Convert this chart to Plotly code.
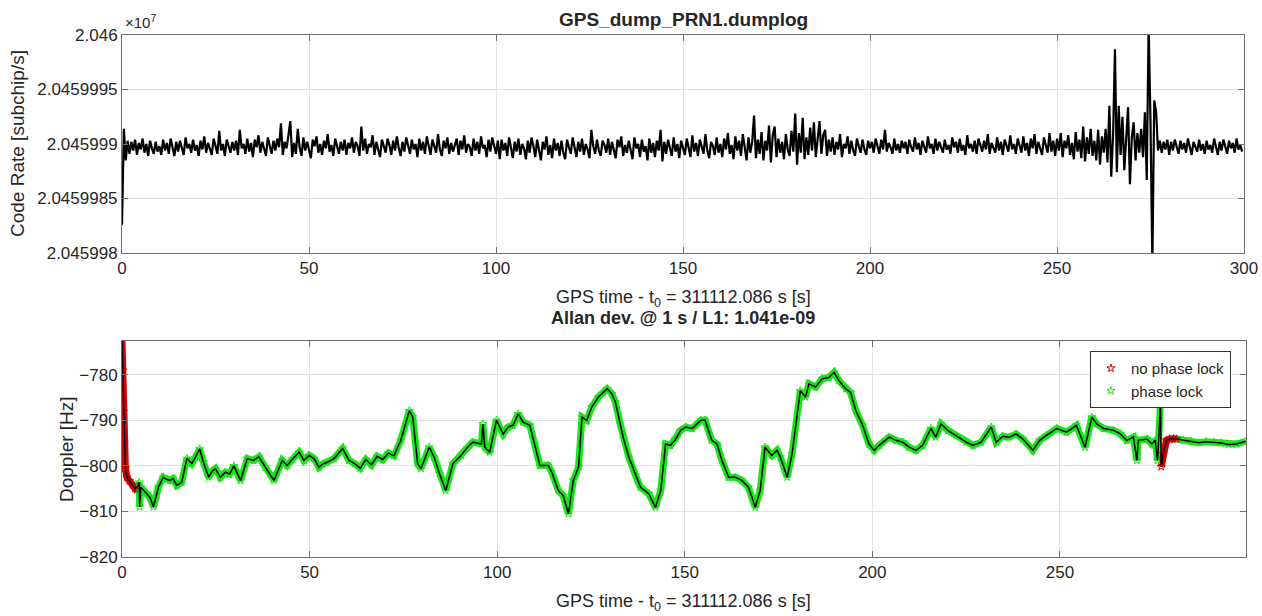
import numpy as np
import plotly.graph_objects as go

# ---------------- data ----------------
# Code rate: sampled every 0.5 s from t=0; offsets in 0.1 subchip/s from 20459990 subchip/s
CODE_RATE_BASE = 20459990.0
CODE_RATE_DT = 0.5
code_rate_dev_tenths = [
    -74, 14, -15, 3, -9, 2, -6, 4, -10, 1, -5, 5, -8, 0, -11, 3, -4, -9, 2, -7,
    -2, -10, 4, -6, 1, -9, 5, -3, -11, 2, -7, 3, -5, -10, 6, -4, 0, -8, 4, -6,
    -1, -11, 3, -5, 7, -8, 1, -4, -10, 5, -2, -9, 12, -6, 0, -11, 4, -3, -8, 2,
    -6, 3, -10, 13, -4, 0, -9, 5, -7, 1, -12, 4, -3, 8, -8, 2, -5, -11, 6, -2,
    -9, 3, -6, 5, -3, 19, -10, 2, -4, 8, 21, -12, 1, -9, 14, -3, -11, 6, -6, 2,
    -5, -13, 4, -2, 7, -8, 0, -10, 3, -4, 9, -7, -1, -11, 5, -3, -9, 2, -6, 4,
    -10, 1, -4, 6, -8, 2, -2, -11, 16, -6, 5, -9, 0, -3, 8, -10, 2, -5, -12, 4,
    -3, -8, 5, -1, -10, 3, -6, 7, -4, -11, 2, -7, 6, -2, -9, 4, -5, 0, -12, 5,
    -6, 2, -9, 7, -3, -10, 4, -1, -8, 9, -5, -11, 3, -4, 6, -9, 1, -7, -2, 5,
    -10, 3, -5, 8, -8, 0, -3, -11, 5, -6, 2, -9, 7, -4, -1, -12, 4, -7, 6, -2,
    -9, 3, -14, 4, -6, 1, -11, 6, -3, -13, 2, -7, 5, -10, 0, -4, -14, 3, -8, 6,
    -2, -12, 4, -7, -15, 2, -5, 7, -10, -1, -13, 5, -6, 1, -11, 3, -8, -14, 4, -3,
    -9, 6, -4, -12, 2, -7, 5, -10, 0, -5, -13, 13, -2, -9, 4, -6, -11, 3, -1, -8,
    5, -10, 2, -6, -13, 4, -3, 7, -11, -1, -8, 3, -5, -14, 6, -4, 0, -12, 4, -7,
    -2, -15, 5, -8, 1, -12, 3, -6, 13, -16, 2, -9, 4, -4, -11, 6, -7, 0, -13, 3,
    -5, -10, 5, -3, -12, 8, -7, 1, -11, 4, -4, -9, 9, -6, -13, 2, -2, -10, 6, -8,
    0, -12, 5, -5, 10, -9, -1, -14, 7, -6, 3, -11, 9, -3, -15, 6, -8, 2, 26, -13,
    4, -9, 11, -15, 3, -6, 17, -17, 8, 16, -12, 5, -8, 2, -14, 9, -5, -11, 12, -7,
    28, -19, 10, -8, 24, -14, 6, -10, 15, -6, 20, -12, 3, 21, -9, 8, 13, -11, 4, -7,
    6, -10, 2, -5, 9, -12, 0, -4, 7, -9, 3, -6, -11, 5, -2, -8, 4, -5, -10, 3,
    -4, 2, -8, 5, -2, -9, 4, -5, 13, -7, 1, -3, -9, 5, -6, 0, -8, 3, -4, 2,
    -9, 4, -3, -7, 6, -5, 1, -10, 3, -2, -8, 7, -4, 0, -9, 5, -6, 2, -3, -8,
    4, -5, -1, -9, 6, -3, 2, -8, 5, -6, -1, -10, 8, -4, 0, -7, 3, -9, 5, -2,
    -7, 3, -5, 9, -9, 1, -3, -8, 6, -6, 2, -10, 4, -2, -7, 8, -5, 0, -9, 5,
    -3, -8, 7, -6, 1, -11, 5, -4, 9, -9, 2, -5, -10, 6, -2, -8, 10, -7, 3, -11,
    5, -6, 10, -12, 3, -4, 8, -10, 1, -14, 11, -7, 4, -13, 16, -16, 6, -9, 14, -11,
    3, -15, 13, -19, 7, -8, 14, -17, 35, -30, 8, 87, -26, 35, -10, 25, -24, 12, 34, -37,
    6, 20, -15, 10, -8, 14, -12, 29, -33, 110, 20, -110, 40, 30, -6, 3, -8, 2, -5, 4,
    -10, 2, -6, 4, -3, -9, 3, -5, 1, -8, 5, -4, -10, 2, -2, -7, 4, -6, 0, -9,
    3, -5, -1, -8, 5, -3, -10, 2, -6, 4, -2, -9, 3, -4, 1, -8, 5, -5, -1, -7,
]

# Doppler (Hz) read at irregular times (s)
doppler_t = [
    0.0, 0.2, 0.4, 0.6, 0.9, 1.3, 2.0, 2.8, 3.5, 4.2,
    4.6, 4.7, 5.0, 6.6, 7.5, 8.4, 9.0, 9.7, 11.0, 12.0, 12.8, 13.6, 14.6, 15.9,
    17.3, 18.0, 18.6, 19.5, 20.7, 21.7, 23.1, 24.0, 24.9, 26.2, 27.6, 28.7, 29.8,
    31.6, 33.4, 35.1, 36.5, 38.2, 39.5, 40.5, 42.7, 44.0, 45.5, 47.2, 48.5, 49.9,
    51.2, 52.5, 53.5, 54.7, 56.5, 58.8, 60.5, 62.0, 63.5, 65.0, 66.5, 68.0, 69.5,
    71.0, 72.5, 74.3, 76.6, 77.5, 78.8, 79.7, 81.9, 83.2, 84.6, 86.3, 88.2, 90.4,
    92.0, 93.5, 95.8, 96.2, 96.7, 98.0, 99.8, 101.6, 102.9, 104.2, 105.6, 106.9,
    108.7, 110.0, 111.4, 113.6, 114.5, 116.3, 117.6, 119.0, 120.3, 121.7, 122.6,
    123.9, 125.2, 127.0, 128.2, 129.3, 130.6, 131.5, 132.8, 133.7, 135.1, 136.9,
    138.2, 140.4, 142.2, 143.6, 144.9, 146.2, 147.6, 148.9, 150.3, 152.0, 154.3,
    155.4, 157.2, 158.6, 159.9, 161.7, 163.5, 165.2, 167.0, 168.8, 170.1, 171.4,
    173.2, 174.6, 175.5, 177.3, 178.6, 180.8, 182.2, 183.1, 184.9, 186.6, 188.4,
    189.8, 191.1, 192.9, 194.2, 195.6, 197.4, 199.1, 200.5, 201.8, 204.5, 206.3,
    208.1, 209.8, 211.6, 213.4, 215.6, 216.9, 218.3, 220.1, 222.3, 225.0, 226.8,
    229.0, 231.7, 233.0, 234.8, 236.5, 238.3, 240.1, 242.8, 244.6, 246.4, 249.2,
    251.8, 254.4, 256.7, 258.5, 259.8, 261.6, 264.3, 266.1, 267.8, 269.6, 270.5,
    270.9, 273.2, 274.5, 275.4, 276.0, 276.3, 276.8,
    277.0, 277.5, 278.4, 279.3, 280.3, 281.1,
    282.9, 285.0, 287.0, 289.0, 291.0, 293.0, 295.0, 297.1, 299.5,
]
doppler_hz = [
    -772.3, -779.0, -788.0, -795.0, -800.5, -802.5, -803.3, -804.2, -805.0, -804.5,
    -803.6, -809.0, -804.7, -806.1, -807.0, -809.0, -807.2, -804.7, -802.5, -803.0, -803.2, -802.8, -804.3, -803.6,
    -798.4, -799.0, -799.5, -798.2, -796.3, -799.2, -802.5, -801.2, -800.6, -802.5, -801.4, -801.8, -800.0,
    -803.2, -798.4, -798.8, -798.0, -800.3, -801.8, -803.2, -798.8, -799.9, -798.5, -797.0, -798.8, -797.7,
    -798.4, -800.3, -799.6, -799.2, -798.4, -796.2, -798.8, -799.5, -800.5, -798.6, -799.8, -797.9, -798.6,
    -797.2, -797.8, -794.4, -787.9, -789.3, -799.5, -800.6, -795.9, -798.1, -801.7, -805.4, -799.5, -797.7,
    -796.0, -794.8, -795.2, -790.8, -795.9, -797.0, -790.0, -793.0, -791.5, -791.1, -788.6, -790.4,
    -791.1, -795.2, -799.9, -799.9, -801.3, -805.4, -806.5, -810.5, -803.2, -800.2, -789.3,
    -790.0, -787.1, -784.9, -784.0, -783.1, -784.2, -786.0, -790.8, -794.1, -798.1, -802.1,
    -804.7, -806.1, -809.1, -805.4, -795.2, -795.5, -794.1, -792.2, -791.5, -791.8, -790.0,
    -790.0, -794.4, -795.2, -798.8, -802.5, -802.5, -803.2, -804.7, -809.1, -805.4, -795.9,
    -797.7, -796.6, -798.1, -802.5, -797.4, -783.5, -784.9, -782.0, -782.7, -780.9, -780.6,
    -779.5, -781.3, -783.1, -783.9, -787.9, -791.1, -795.2, -796.6, -795.5, -793.7, -794.4,
    -794.8, -795.9, -796.6, -795.5, -791.8, -793.7, -790.8, -792.2, -793.3, -794.8, -795.5,
    -794.8, -791.5, -794.8, -793.5, -793.7, -793.0, -794.1, -796.6, -794.4, -793.3, -791.8,
    -792.6, -791.1, -795.9, -789.3, -790.8, -791.8, -792.2, -793.0, -794.4, -793.7, -798.8,
    -794.4, -794.1, -795.2, -794.4, -798.8, -794.5, -786.4,
    -800.2, -797.4, -794.4, -794.1, -794.0, -794.1,
    -794.4, -794.6, -794.9, -794.7, -794.8, -795.0, -795.3, -795.2, -794.6,
]
# run lengths of the lock state along doppler_t: (count, locked)
doppler_lock_runs = [(10, 0), (184, 1), (6, 0), (9, 1)]

x_ticks_top = [0, 50, 100, 150, 200, 250, 300]
x_ticks_bottom = [0, 50, 100, 150, 200, 250]
code_rate_ticks = [20459980, 20459985, 20459990, 20459995, 20460000]
code_rate_ticktext = ["2.045998", "2.0459985", "2.045999", "2.0459995", "2.046"]
doppler_ticks = [-820, -810, -800, -790, -780]

title_top = "GPS_dump_PRN1.dumplog"
title_bottom = "Allan dev. @ 1 s / L1: 1.041e-09"
xlabel = "GPS time - t<sub>0</sub> = 311112.086 s [s]"
ylabel_top = "Code Rate [subchip/s]"
ylabel_bottom = "Doppler [Hz]"

# ---------------- figure ----------------
W, H = 1262, 616
FONT = "Liberation Sans, Arial, Helvetica, sans-serif"
TXT = "#262626"
RED = "#d40000"
GREEN = "#19e619"

n = min(len(doppler_t), len(doppler_hz))
doppler_t = doppler_t[:n]
doppler_hz = doppler_hz[:n]
doppler_lock = []
for cnt, flag in doppler_lock_runs:
    doppler_lock += [flag] * cnt
doppler_lock = (doppler_lock + [1] * n)[:n]

code_t = np.arange(len(code_rate_dev_tenths)) * CODE_RATE_DT
code_y = CODE_RATE_BASE + np.array(code_rate_dev_tenths) / 10.0

fig = go.Figure()
fig.add_trace(go.Scatter(x=code_t, y=code_y, mode="lines",
                         line=dict(color="black", width=2.2), showlegend=False,
                         xaxis="x", yaxis="y"))

segs = []
start = 0
for i in range(1, n + 1):
    if i == n or doppler_lock[i] != doppler_lock[start]:
        segs.append((start, i, doppler_lock[start]))
        start = i
for (a, b, flag) in segs:
    a2 = a - 1 if a > 0 and flag == 1 else a
    fig.add_trace(go.Scatter(x=doppler_t[a2:b], y=doppler_hz[a2:b], mode="lines",
                             line=dict(color=GREEN if flag else RED, width=7),
                             showlegend=False, xaxis="x2", yaxis="y2", hoverinfo="skip"))

dt = np.array(doppler_t)
dv = np.array(doppler_hz)
lk = np.array(doppler_lock)
fig.add_trace(go.Scatter(x=dt[lk == 0], y=dv[lk == 0], mode="markers", name="no phase lock",
                         marker=dict(symbol="star-open", size=6, color=RED, line=dict(width=1, color=RED)),
                         xaxis="x2", yaxis="y2"))
fig.add_trace(go.Scatter(x=dt[lk == 1], y=dv[lk == 1], mode="markers", name="phase lock",
                         marker=dict(symbol="star-open", size=6, color=GREEN, line=dict(width=1, color=GREEN)),
                         xaxis="x2", yaxis="y2"))
fig.add_trace(go.Scatter(x=doppler_t, y=doppler_hz, mode="lines",
                         line=dict(color="black", width=1.5), showlegend=False,
                         xaxis="x2", yaxis="y2"))

def px_x(p):
    return p / W

def px_y(p):
    return 1 - p / H

axis_common = dict(showline=True, linecolor="#6e6e6e", linewidth=1, mirror="ticks",
                   ticks="inside", ticklen=6, tickcolor="#6e6e6e", showgrid=True,
                   gridcolor="#e3e3e3", gridwidth=1, zeroline=False, automargin=False,
                   ticklabeloverflow="allow",
                   tickfont=dict(family=FONT, size=17, color=TXT))

fig.update_layout(
    template="none",
    width=W, height=H, autosize=False,
    margin=dict(l=0, r=0, t=0, b=0, pad=0),
    paper_bgcolor="white", plot_bgcolor="white",
    font=dict(family=FONT, color=TXT),
    hovermode=False,
    xaxis=dict(domain=[px_x(122), px_x(1244)], range=[0, 300], tickvals=x_ticks_top,
               anchor="y", **axis_common),
    yaxis=dict(domain=[px_y(253), px_y(35)], range=[20459980, 20460000],
               tickvals=code_rate_ticks, ticktext=code_rate_ticktext, anchor="x", **axis_common),
    xaxis2=dict(domain=[px_x(122), px_x(1246)], range=[0, 299.6], tickvals=x_ticks_bottom,
                anchor="y2", **axis_common),
    yaxis2=dict(domain=[px_y(557), px_y(341)], range=[-820, -772.6],
                tickvals=doppler_ticks, anchor="x2", **axis_common),
    legend=dict(x=px_x(1090), y=px_y(351), xanchor="left", yanchor="top",
                bgcolor="white", bordercolor="#333333", borderwidth=1,
                font=dict(family=FONT, size=15, color=TXT), tracegroupgap=0),
    showlegend=True,
)

ann = [
    dict(text="<b>" + title_top + "</b>", x=px_x(683), y=px_y(20), size=19),
    dict(text="<b>" + title_bottom + "</b>", x=px_x(683), y=px_y(318), size=18),
    dict(text=xlabel, x=px_x(683), y=px_y(298), size=18),
    dict(text=xlabel, x=px_x(683), y=px_y(602), size=18),
]
for a in ann:
    fig.add_annotation(text=a["text"], x=a["x"], y=a["y"], xref="paper", yref="paper",
                       xanchor="center", yanchor="middle", showarrow=False,
                       font=dict(family=FONT, size=a["size"], color=TXT))
fig.add_annotation(text=ylabel_top, x=px_x(18), y=px_y(144), xref="paper", yref="paper",
                   textangle=-90, showarrow=False, xanchor="center", yanchor="middle",
                   font=dict(family=FONT, size=19, color=TXT))
fig.add_annotation(text=ylabel_bottom, x=px_x(66), y=px_y(449), xref="paper", yref="paper",
                   textangle=-90, showarrow=False, xanchor="center", yanchor="middle",
                   font=dict(family=FONT, size=19, color=TXT))
fig.add_annotation(text="×10<sup>7</sup>", x=px_x(123), y=px_y(22), xref="paper", yref="paper",
                   xanchor="left", yanchor="middle", showarrow=False,
                   font=dict(family=FONT, size=15, color=TXT))

# remove the default 8px page margin so the 1262x616 figure fills the window exactly
fig.write_html("out.html", config={"displayModeBar": False},
               post_script="document.body.style.margin='0';")
